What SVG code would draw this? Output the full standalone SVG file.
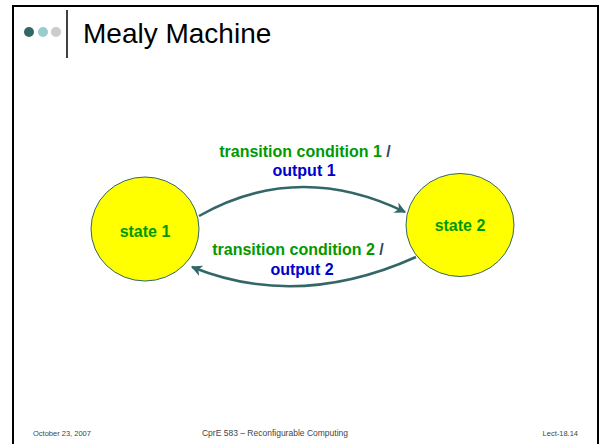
<svg xmlns="http://www.w3.org/2000/svg" width="602" height="444" viewBox="0 0 602 444">
  <defs>
    <style>
      .frame { fill: none; stroke: #000; stroke-width: 2; }
      .state { fill: #ffff00; stroke: #336666; stroke-width: 1; }
      .slabel { font-family: "Liberation Sans", Arial, sans-serif; font-size: 16px; font-weight: bold; fill: #009900; text-anchor: middle; }
      .cond { font-family: "Liberation Sans", Arial, sans-serif; font-size: 16px; font-weight: bold; fill: #009900; text-anchor: middle; }
      .out { fill: #0000cc; }
      .slash { fill: #334466; }
      .edge { fill: none; stroke: #336666; stroke-width: 2.5; }
      .foot { font-family: "Liberation Sans", Arial, sans-serif; font-size: 7.5px; fill: #444; }
      .foot.mid { font-size: 8.5px; text-anchor: middle; }
    </style>
    <marker id="arrow" viewBox="0 0 10 10" refX="9" refY="5" markerWidth="4.5" markerHeight="4.5" orient="auto" markerUnits="strokeWidth">
      <path d="M0,0 L10,5 L0,10 L3,5 Z" fill="#336666"/>
    </marker>
  </defs>

  <rect width="602" height="444" fill="#fff"/>

  <!-- slide frame -->
  <path class="frame" d="M13,444 V6 H598 V444"/>

  <!-- title bar -->
  <g id="title">
    <circle cx="29" cy="32" r="5" fill="#336666"/>
    <circle cx="43" cy="32" r="5" fill="#99cccc"/>
    <circle cx="56" cy="32" r="5" fill="#cccccc"/>
    <line x1="67" y1="10" x2="67" y2="58" stroke="#000" stroke-width="1.5"/>
    <text x="83" y="43" font-family="Liberation Sans, Arial, sans-serif" font-size="28" fill="#000">Mealy Machine</text>
  </g>

  <!-- connectors -->
  <g id="edges">
    <path class="edge" marker-end="url(#arrow)" d="M199,216 Q298,160 405,212"/>
    <path class="edge" marker-end="url(#arrow)" d="M416,257 Q298,310 192,267"/>
  </g>

  <g id="state1">
    <ellipse class="state" cx="145" cy="229" rx="54" ry="52"/>
    <text class="slabel" x="145" y="237">state 1</text>
  </g>

  <g id="state2">
    <ellipse class="state" cx="460" cy="225" rx="54" ry="51.5"/>
    <text class="slabel" x="460" y="231">state 2</text>
  </g>

  <g id="label1">
    <text class="cond" x="305" y="157">transition condition 1 <tspan class="slash">/</tspan></text>
    <text class="cond out" x="304" y="176">output 1</text>
  </g>

  <g id="label2">
    <text class="cond" x="298" y="255">transition condition 2 <tspan class="slash">/</tspan></text>
    <text class="cond out" x="302" y="275">output 2</text>
  </g>

  <!-- footer -->
  <g id="footer">
    <text class="foot" x="33" y="436">October 23, 2007</text>
    <text class="foot mid" x="275" y="436">CprE 583 – Reconfigurable Computing</text>
    <text class="foot" x="578" y="436" text-anchor="end">Lect-18.14</text>
  </g>
</svg>
